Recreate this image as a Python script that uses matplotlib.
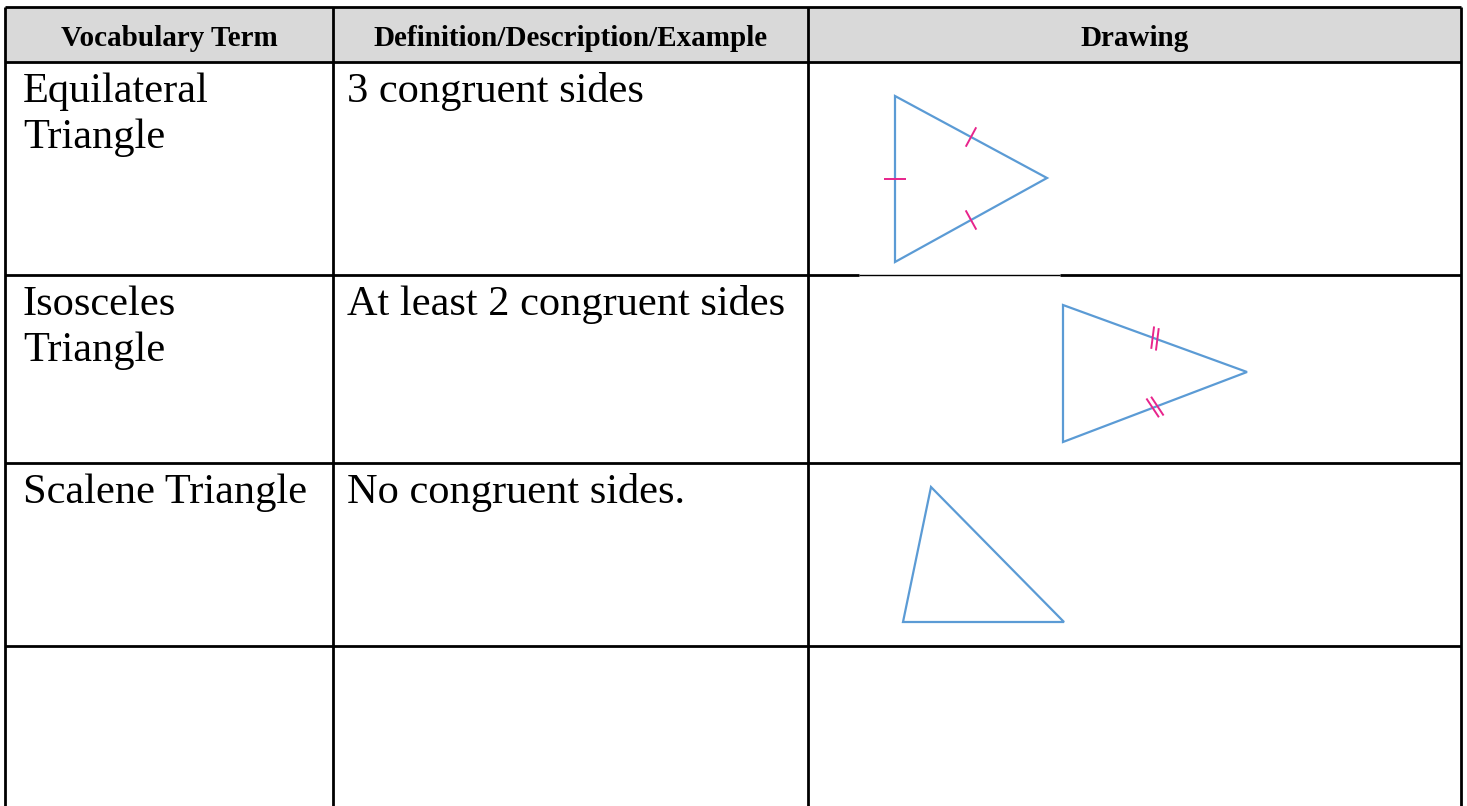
#!/usr/bin/env python3
#
# Vocabulary table: triangle types with drawings
#

import numpy as np
import matplotlib
matplotlib.use('Agg')
import matplotlib.pyplot as plt
from matplotlib.patches import Rectangle, Polygon

headers = ['Vocabulary Term', 'Definition/Description/Example', 'Drawing']
terms = [['Equilateral', 'Triangle'], ['Isosceles', 'Triangle'], ['Scalene Triangle'], []]
definitions = ['3 congruent sides', 'At least 2 congruent sides', 'No congruent sides.', '']

# triangle drawings, in pixel coords of the sheet (y downwards)
equilateral = [(895, 96), (1047, 178), (895, 262)]
isosceles = [(1063, 305), (1247, 372), (1063, 442)]
scalene = [(931, 487), (1064, 622), (903, 622)]
# which sides get tick marks, and how many ticks each
equilateral_ticks = [(0, 1), (1, 1), (2, 1)]
isosceles_ticks = [(0, 2), (1, 2)]

col_edges = [5, 333, 808, 1461]
row_edges = [7, 62, 275, 463, 646, 806]

W, H = 1467, 806
BLUE = '#5b9bd5'
PINK = '#e8248c'
SERIF = ['Liberation Serif', 'DejaVu Serif']


def tick_marks(ax, tri, ticks, half=11, gap=5):
    for side, count in ticks:
        p = np.array(tri[side], float)
        q = np.array(tri[(side + 1) % 3], float)
        mid = (p + q) / 2
        d = (q - p) / np.linalg.norm(q - p)
        n = np.array([-d[1], d[0]])
        offsets = (np.arange(count) - (count - 1) / 2) * gap
        for o in offsets:
            c = mid + d * o
            # slight slant for the double ticks, like the drawing
            tilt = d * (2.5 if count > 1 else 0)
            a = c - n * half - tilt
            b = c + n * half + tilt
            ax.plot([a[0], b[0]], [a[1], b[1]], color=PINK, lw=1.4, solid_capstyle='butt')


fig = plt.figure(figsize=(W / 100, H / 100), dpi=100)
ax = fig.add_axes([0, 0, 1, 1])
ax.set_xlim(0, W)
ax.set_ylim(H, 0)
ax.axis('off')

# header band
ax.add_patch(Rectangle((col_edges[0], row_edges[0]), col_edges[-1] - col_edges[0],
                       row_edges[1] - row_edges[0], facecolor='#d9d9d9', edgecolor='none'))

# grid lines
for x in col_edges:
    ax.plot([x, x], [row_edges[0], H], color='black', lw=2.0, solid_capstyle='butt')
for i, y in enumerate(row_edges[:-1]):
    if i == 2:
        # the picture in the first drawing cell covers part of this line
        ax.plot([col_edges[0], 859], [y, y], color='black', lw=2.0, solid_capstyle='butt')
        ax.plot([859, 1060], [y, y], color='black', lw=1.0, solid_capstyle='butt')
        ax.plot([1060, col_edges[-1]], [y, y], color='black', lw=2.0, solid_capstyle='butt')
    else:
        ax.plot([col_edges[0], col_edges[-1]], [y, y], color='black', lw=2.0,
                solid_capstyle='butt')

# header texts
for j, h in enumerate(headers):
    xc = (col_edges[j] + col_edges[j + 1]) / 2
    ax.text(xc, (row_edges[0] + row_edges[1]) / 2 + 4, h, ha='center', va='center',
            fontsize=21, fontweight='bold', family=SERIF)

# body texts
for i, (term, defn) in enumerate(zip(terms, definitions)):
    top = row_edges[i + 1]
    for k, line in enumerate(term):
        ax.text(col_edges[0] + 18, top + 40 + 46 * k, line, ha='left', va='baseline',
                fontsize=30.5, family=SERIF)
    if defn:
        ax.text(col_edges[1] + 14, top + 40, defn, ha='left', va='baseline',
                fontsize=30.5, family=SERIF)

# drawings
for tri in (equilateral, isosceles, scalene):
    ax.add_patch(Polygon(tri, closed=True, fill=False, edgecolor=BLUE, lw=1.6,
                         joinstyle='miter'))
tick_marks(ax, equilateral, equilateral_ticks)
tick_marks(ax, isosceles, isosceles_ticks)

plt.savefig('out.png', dpi=100)
